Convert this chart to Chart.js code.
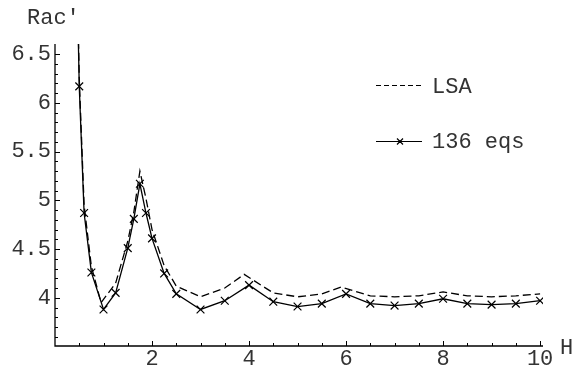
<!DOCTYPE html>
<html>
<head>
<meta charset="utf-8">
<script src="https://cdn.jsdelivr.net/npm/chart.js@4.4.1/dist/chart.umd.min.js"></script>
<style>
  body { margin: 0; background: #fff; }
  canvas { display: block; }
</style>
</head>
<body>
<canvas id="racChart" width="574" height="366"></canvas>
<script>
// 136 equations (solid line with x markers)
const hEqs = [0.45, 0.5, 0.6, 0.75, 1, 1.25, 1.5, 1.625, 1.75, 1.875, 2, 2.25, 2.5, 3, 3.5, 4, 4.5, 5, 5.5, 6, 6.5, 7, 7.5, 8, 8.5, 9, 9.5, 10];
const racEqs = [7.4, 6.17, 4.87, 4.26, 3.88, 4.05, 4.51, 4.81, 5.17, 4.87, 4.61, 4.25, 4.04, 3.88, 3.97, 4.13, 3.96, 3.91, 3.94, 4.04, 3.94, 3.92, 3.94, 3.99, 3.94, 3.93, 3.94, 3.97];

// LSA (dashed line)
const hLsa = [0.45, 0.5, 0.6, 0.75, 0.95, 1.25, 1.5, 1.625, 1.75, 1.875, 2, 2.25, 2.5, 3, 3.5, 3.9, 4.5, 5, 5.5, 5.9, 6.5, 7, 7.5, 8, 8.5, 9, 9.5, 10];
const racLsa = [7.5, 6.25, 4.95, 4.32, 3.95, 4.15, 4.58, 4.88, 5.30, 5.02, 4.70, 4.33, 4.12, 4.01, 4.10, 4.24, 4.05, 4.01, 4.04, 4.11, 4.02, 4.01, 4.02, 4.06, 4.02, 4.01, 4.02, 4.04];

// tick labels
const xTickLabels = [2, 4, 6, 8, 10];
const yTickLabels = [4, 4.5, 5, 5.5, 6, 6.5];

const textColor = '#333';
const monoFont = "'Liberation Mono', 'Courier New', monospace";

Chart.defaults.font.family = monoFont;
Chart.defaults.font.size = 22;
Chart.defaults.color = textColor;

// axes drawn Mathematica style: lines + inward ticks, plus axis names and legend
const axisArt = {
  id: 'axisArt',
  afterDraw(chart) {
    const { ctx, scales: { x, y }, chartArea: a } = chart;
    ctx.save();
    ctx.strokeStyle = '#000';
    ctx.lineWidth = 1.3;
    ctx.beginPath();
    ctx.moveTo(a.left, a.top);
    ctx.lineTo(a.left, a.bottom);
    ctx.lineTo(a.right, a.bottom);
    ctx.stroke();

    ctx.lineWidth = 1;
    ctx.beginPath();
    // x ticks every 0.5, longer at labelled values
    for (let i = 1; i <= 20; i++) {
      const v = i / 2;
      const px = Math.round(x.getPixelForValue(v)) + 0.5;
      const len = xTickLabels.includes(v) ? 5 : 3;
      ctx.moveTo(px, a.bottom);
      ctx.lineTo(px, a.bottom - len);
    }
    // y ticks every 0.1, longer at labelled values
    for (let i = 36; i <= 65; i++) {
      const v = i / 10;
      const py = Math.round(y.getPixelForValue(v)) + 0.5;
      const len = yTickLabels.includes(v) ? 5 : 3;
      ctx.moveTo(a.left, py);
      ctx.lineTo(a.left + len, py);
    }
    ctx.stroke();

    // axis names
    ctx.fillStyle = textColor;
    ctx.font = '22px ' + monoFont;
    ctx.textBaseline = 'alphabetic';
    ctx.textAlign = 'left';
    ctx.fillText("Rac'", 27, 24);
    ctx.fillText('H', 560, 354);

    // legend
    const ds = chart.data.datasets;
    ctx.lineWidth = 1.2;
    ctx.setLineDash([5, 3]);
    ctx.beginPath();
    ctx.moveTo(376, 85.5);
    ctx.lineTo(422, 85.5);
    ctx.stroke();
    ctx.setLineDash([]);
    ctx.beginPath();
    ctx.moveTo(376, 141.5);
    ctx.lineTo(422, 141.5);
    ctx.moveTo(397, 138.5);
    ctx.lineTo(403, 144.5);
    ctx.moveTo(403, 138.5);
    ctx.lineTo(397, 144.5);
    ctx.stroke();
    ctx.fillText(ds[0].label, 432, 93);
    ctx.fillText(ds[1].label, 432, 148);
    ctx.restore();
  }
};

new Chart(document.getElementById('racChart'), {
  type: 'line',
  data: {
    datasets: [
      {
        label: 'LSA',
        data: hLsa.map((h, i) => ({ x: h, y: racLsa[i] })),
        borderColor: '#000',
        borderWidth: 1.3,
        borderDash: [8, 4],
        pointRadius: 0,
        tension: 0
      },
      {
        label: '136 eqs',
        data: hEqs.map((h, i) => ({ x: h, y: racEqs[i] })),
        borderColor: '#000',
        borderWidth: 1.3,
        pointStyle: 'crossRot',
        pointRadius: 5.5,
        pointBorderWidth: 1.2,
        pointBorderColor: '#000',
        tension: 0
      }
    ]
  },
  options: {
    responsive: false,
    animation: false,
    layout: { padding: { top: 44, right: 31, left: 0, bottom: 0 } },
    scales: {
      x: {
        type: 'linear',
        min: 0,
        max: 10.06,
        afterBuildTicks: s => { s.ticks = xTickLabels.map(v => ({ value: v })); },
        afterFit: s => { s.height = 20; },
        grid: { display: false, drawTicks: false },
        border: { display: false },
        ticks: { padding: 0, maxRotation: 0, autoSkip: false, color: textColor, callback: v => String(v) }
      },
      y: {
        type: 'linear',
        min: 3.505,
        max: 6.605,
        afterBuildTicks: s => { s.ticks = yTickLabels.map(v => ({ value: v })); },
        afterFit: s => { s.width = 55; },
        grid: { display: false, drawTicks: false },
        border: { display: false },
        ticks: { padding: 4, autoSkip: false, color: textColor, callback: v => String(v) }
      }
    },
    plugins: {
      legend: { display: false },
      tooltip: { enabled: false }
    }
  },
  plugins: [axisArt]
});
</script>
</body>
</html>
